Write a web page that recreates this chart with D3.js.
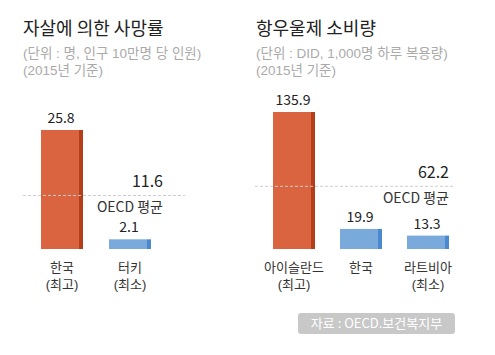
<!DOCTYPE html>
<html><head><meta charset="utf-8">
<script src="https://cdn.jsdelivr.net/npm/d3@7/dist/d3.min.js"></script>
<style>
body{margin:0;background:#fff;}
text{font-family:"Noto Sans CJK KR","Noto Sans",sans-serif;}
text.ml{font-family:"Liberation Sans","Noto Sans CJK KR",sans-serif;}
</style></head>
<body>
<svg id="c" width="495" height="355"></svg>
<script>
// Panel 1: 자살에 의한 사망률
const cats1 = ["한국|(최고)", "터키|(최소)"];
const vals1 = [25.8, 2.1];
const avg1 = 11.6;
// Panel 2: 항우울제 소비량
const cats2 = ["아이슬란드|(최고)", "한국", "라트비아|(최소)"];
const vals2 = [135.9, 19.9, 13.3];
const avg2 = 62.2;
const avgLabel = "OECD 평균";

const svg = d3.select("#c");
const baseY = 249;

function panel(opt){
  const g = svg.append("g");
  g.append("text").attr("x", opt.tx).attr("y", 35).attr("font-size", 18).attr("fill", "#222").text(opt.title);
  opt.sub.forEach((s, i) => {
    g.append("text").attr("class", "ml").attr("x", opt.tx).attr("y", 58 + i*17)
      .attr("font-size", 13.5).attr("fill", "#aaa").text(s);
  });
  const x = d3.scaleBand().domain(opt.cats).range(opt.xr).paddingInner(opt.pad).paddingOuter(0);
  const y = d3.scaleLinear().domain([0, opt.max]).range([baseY, opt.top]);
  const bw = x.bandwidth();
  const bars = g.selectAll("g.bar").data(opt.cats).enter().append("g");
  bars.append("rect")
    .attr("x", d => x(d)).attr("y", (d,i) => y(opt.vals[i]))
    .attr("width", bw - 4).attr("height", (d,i) => baseY - y(opt.vals[i]))
    .attr("fill", (d,i) => i === 0 ? "#d9643f" : "#7aaadc");
  bars.append("rect")
    .attr("x", d => x(d) + bw - 4).attr("y", (d,i) => y(opt.vals[i]))
    .attr("width", 4).attr("height", (d,i) => baseY - y(opt.vals[i]))
    .attr("fill", (d,i) => i === 0 ? "#b43e1a" : "#4a89cf");
  bars.append("text")
    .attr("x", d => x(d) + bw/2 - 1).attr("y", (d,i) => y(opt.vals[i]) - 7)
    .attr("text-anchor", "middle").attr("font-size", 14).attr("fill", "#222")
    .text((d,i) => opt.vals[i]);
  bars.each(function(d){
    const parts = d.split("|");
    const s = d3.select(this);
    parts.forEach((p, j) => {
      s.append("text").attr("class", "ml").attr("x", x(d) + bw/2).attr("y", 272 + j*17)
        .attr("text-anchor", "middle").attr("font-size", 13).attr("fill", "#333").text(p);
    });
  });
  const ly = y(opt.avg);
  g.append("line").attr("x1", opt.lx[0]).attr("x2", opt.lx[1]).attr("y1", ly).attr("y2", ly)
    .attr("stroke", "#cccccc").attr("stroke-width", 1).attr("stroke-dasharray", "3,2");
  g.append("text").attr("x", opt.ax).attr("y", ly - 8).attr("text-anchor", "end")
    .attr("font-size", 16).attr("fill", "#222").text(opt.avg);
  g.append("text").attr("x", opt.ax).attr("y", ly + 17).attr("text-anchor", "end")
    .attr("font-size", 14).attr("fill", "#333").text(avgLabel);
}

panel({title:"자살에 의한 사망률", sub:["(단위 : 명, 인구 10만명 당 인원)", "(2015년 기준)"], tx:23,
  cats:cats1, vals:vals1, avg:avg1, max:25.8, top:130, xr:[41,151], pad:26/68, lx:[23,185], ax:163});
panel({title:"항우울제 소비량", sub:["(단위 : DID, 1,000명 하루 복용량)", "(2015년 기준)"], tx:256,
  cats:cats2, vals:vals2, avg:avg2, max:135.9, top:112, xr:[273,449], pad:25/67, lx:[255,453], ax:449});

// source box
svg.append("rect").attr("x", 298).attr("y", 313).attr("width", 157).attr("height", 21).attr("rx", 3).attr("fill", "#c8c8c8");
svg.append("text").attr("x", 376.5).attr("y", 328).attr("text-anchor", "middle").attr("font-size", 13).attr("fill", "#fff").text("자료 : OECD.보건복지부");
</script>
</body></html>
